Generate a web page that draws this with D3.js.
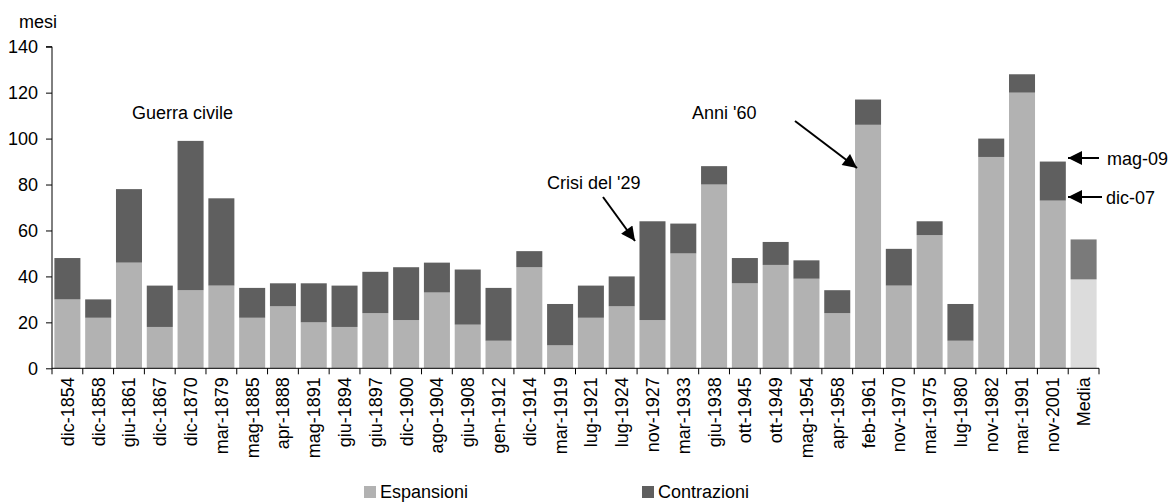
<!DOCTYPE html>
<html><head><meta charset="utf-8">
<script src="https://cdn.jsdelivr.net/npm/d3@7"></script>
<style>
body{margin:0;background:#fff;}
svg{display:block;font-family:"Liberation Sans",Arial,sans-serif;}
</style></head>
<body><svg id="c" width="1175" height="504"></svg>
<script>
const categories = ["dic-1854","dic-1858","giu-1861","dic-1867","dic-1870","mar-1879","mag-1885","apr-1888","mag-1891","giu-1894","giu-1897","dic-1900","ago-1904","giu-1908","gen-1912","dic-1914","mar-1919","lug-1921","lug-1924","nov-1927","mar-1933","giu-1938","ott-1945","ott-1949","mag-1954","apr-1958","feb-1961","nov-1970","mar-1975","lug-1980","nov-1982","mar-1991","nov-2001","Media"];
const espansioni = [30,22,46,18,34,36,22,27,20,18,24,21,33,19,12,44,10,22,27,21,50,80,37,45,39,24,106,36,58,12,92,120,73,38.7];
const contrazioni = [18,8,32,18,65,38,13,10,17,18,18,23,13,24,23,7,18,14,13,43,13,8,11,10,8,10,11,16,6,16,8,8,17,17.4];
const yTicks = [0,20,40,60,80,100,120,140];
const seriesNames = ["Espansioni","Contrazioni"];

const svg = d3.select("#c");
const x = d3.scaleBand().domain(categories).range([52,1099]).paddingInner(0.155).paddingOuter(0.0775);
const y = d3.scaleLinear().domain([0,140]).range([368.3,46.7]);

const colE = d => d === "Media" ? "#dcdcdc" : "#b2b2b2";
const colC = d => d === "Media" ? "#7a7a7a" : "#5f5f5f";

const bars = svg.append("g");
categories.forEach((c,i)=>{
  const e = espansioni[i], k = contrazioni[i];
  bars.append("rect").attr("x",x(c)).attr("width",x.bandwidth())
    .attr("y",y(e)).attr("height",y(0)-y(e)).attr("fill",colE(c));
  bars.append("rect").attr("x",x(c)).attr("width",x.bandwidth())
    .attr("y",y(e+k)).attr("height",y(e)-y(e+k)).attr("fill",colC(c));
});

// y axis
const ya = svg.append("g").attr("transform","translate(52,0)")
  .call(d3.axisLeft(y).tickValues(yTicks).tickSize(6).tickPadding(8).tickFormat(d3.format("d")));
ya.selectAll("text").attr("font-size",18).attr("fill","#000").attr("font-family","Liberation Sans, Arial, sans-serif");
ya.selectAll("line,path").attr("stroke","#000");
ya.select(".domain").attr("d","M-6,"+y(140)+"H0V"+y(0));

// x axis labels
const xa = svg.append("g").attr("transform","translate(0,"+y(0)+")")
  .call(d3.axisBottom(x).tickSize(0).tickPadding(0));
xa.select(".domain").attr("stroke","#000").attr("d","M52,0H1099");
xa.selectAll("text").attr("font-size",18).attr("fill","#000")
  .attr("font-family","Liberation Sans, Arial, sans-serif")
  .attr("text-anchor","end").attr("transform","rotate(-90)")
  .attr("x",-9).attr("y",0).attr("dy","0.36em");
// boundary ticks
const step = x.step();
const bounds = categories.map(c => x(c) - step*x.paddingInner()/2).concat([x(categories[categories.length-1]) + x.bandwidth() + step*x.paddingInner()/2]);
svg.append("g").selectAll("line").data(bounds).join("line")
  .attr("x1",d=>d).attr("x2",d=>d).attr("y1",y(0)).attr("y2",y(0)+6).attr("stroke","#000");

// mesi label
svg.append("text").attr("x",19).attr("y",28).attr("font-size",18).text("mesi");

// annotations
svg.append("defs").append("marker").attr("id","ah").attr("viewBox","0 0 10 10")
  .attr("refX",10).attr("refY",5).attr("markerWidth",16).attr("markerHeight",14)
  .attr("markerUnits","userSpaceOnUse").attr("orient","auto")
  .append("path").attr("d","M0,0L10,5L0,10Z").attr("fill","#000");

const notes = [
  {t:"Guerra civile", x:132, y:119},
  {t:"Crisi del '29", x:547, y:189},
  {t:"Anni '60", x:692, y:119},
  {t:"mag-09", x:1107, y:165},
  {t:"dic-07", x:1106, y:204}
];
svg.append("g").selectAll("text").data(notes).join("text")
  .attr("x",d=>d.x).attr("y",d=>d.y).attr("font-size",18).text(d=>d.t);

const arrows = [
  [603,197,635,241],
  [795,121,857,168],
  [1099,158,1068,158],
  [1102,197,1068,197]
];
svg.append("g").selectAll("line").data(arrows).join("line")
  .attr("x1",d=>d[0]).attr("y1",d=>d[1]).attr("x2",d=>d[2]).attr("y2",d=>d[3])
  .attr("stroke","#000").attr("stroke-width",2).attr("marker-end","url(#ah)");

// legend
const lg = svg.append("g");
const lx = [364,642];
seriesNames.forEach((s,i)=>{
  lg.append("rect").attr("x",lx[i]).attr("y",486).attr("width",12).attr("height",12)
    .attr("fill", i===0 ? "#b2b2b2" : "#5f5f5f");
  lg.append("text").attr("x",lx[i]+16).attr("y",498).attr("font-size",18).text(s);
});
</script></body></html>
